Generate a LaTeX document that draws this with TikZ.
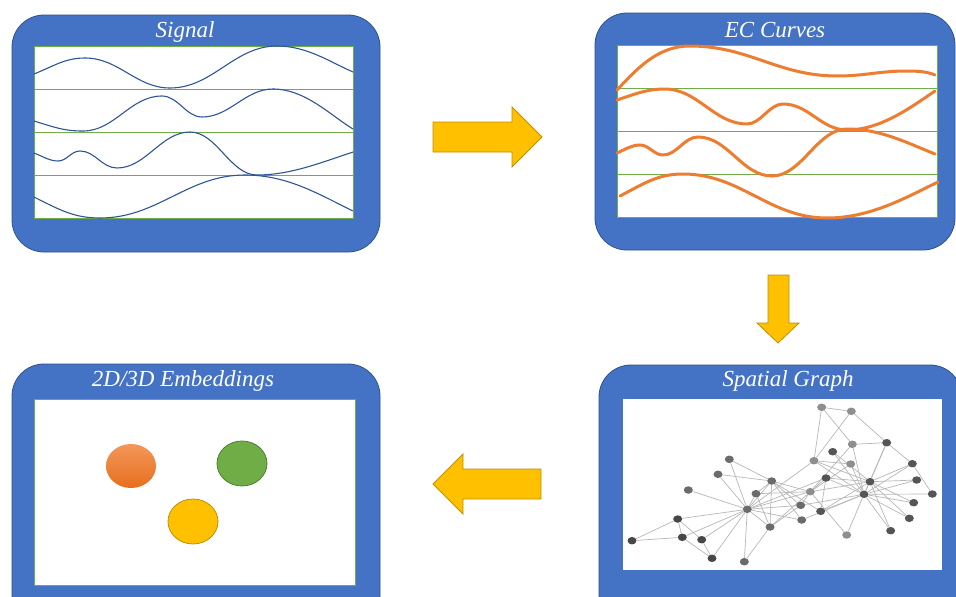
\documentclass[tikz,border=0pt]{standalone}
\usepackage{fontspec}
\setmainfont{Liberation Serif}
\usetikzlibrary{shapes.geometric}
\definecolor{boxblue}{HTML}{4472C4}
\definecolor{boxedge}{HTML}{2F528F}
\definecolor{gr}{HTML}{70AD47}
\definecolor{grdark}{HTML}{507E32}
\definecolor{sigblue}{HTML}{2F5597}
\definecolor{ecorange}{HTML}{ED7D31}
\definecolor{ortop}{HTML}{F3975A}
\definecolor{orbot}{HTML}{E66F1E}
\definecolor{yel}{HTML}{FFC000}
\definecolor{yeledge}{HTML}{BF9000}
\definecolor{gdark}{HTML}{474747}
\definecolor{gdk}{HTML}{555555}
\definecolor{gmid}{HTML}{6B6B6B}
\definecolor{glight}{HTML}{8E8E8E}
\definecolor{gedge}{HTML}{B8B8B8}
\tikzset{
  panel/.style={fill=boxblue,draw=boxedge,line width=0.8pt,rounded corners=32pt},
  inner/.style={fill=white,draw=gr,line width=1pt},
  strip/.style={draw=gr,line width=0.8pt},
  sig/.style={draw=sigblue,line width=1.1pt},
  ec/.style={draw=ecorange,line width=3pt,line cap=round},
  title/.style={text=white,anchor=base,inner sep=0pt,font=\fontsize{23}{26}\selectfont\itshape},
  bigarrow/.style={fill=yel,draw=yeledge,line width=0.8pt,line join=miter},
  gn/.style={ellipse,minimum width=9pt,minimum height=7.5pt,inner sep=0pt,draw=none,fill=none},
  ge/.style={draw=gedge,line width=0.7pt}
}
\begin{document}
\begin{tikzpicture}[x=1pt,y=-1pt]
\path[use as bounding box] (0,0) rectangle (956,597);
\clip (0,0) rectangle (956,597);
\fill[white] (0,0) rectangle (956,597);

% ---------- Signal panel ----------
\draw[panel] (12,15) rectangle (380,252);
\draw[inner] (34,46) rectangle (353,218);
\draw[strip] (34,89) -- (353,89);
\draw[strip] (34,132) -- (353,132);
\draw[strip] (34,175) -- (353,175);
\node[title] (tsig) at (185,37) {Signal};
\draw[sig] (34,74) .. controls (54,66) and (65,58) .. (85,58)
  .. controls (119,58) and (136,88) .. (170,88)
  .. controls (213,88) and (234,46) .. (277,46)
  .. controls (307,46) and (330,62) .. (353,72);
\draw[sig] (34,121) .. controls (54,127) and (63,131) .. (83,131)
  .. controls (115,131) and (130,96) .. (162,96)
  .. controls (178,96) and (186,117) .. (202,117)
  .. controls (230,117) and (245,89) .. (273,89)
  .. controls (305,89) and (330,115) .. (353,129);
\draw[sig] (34,153) .. controls (44,157) and (50,161) .. (58,161)
  .. controls (67,161) and (71,151) .. (80,151)
  .. controls (95,151) and (102,168) .. (117,168)
  .. controls (146,168) and (161,132) .. (190,132)
  .. controls (217,132) and (230,175) .. (257,175)
  .. controls (290,175) and (320,163) .. (353,152);
\draw[sig] (34,197) .. controls (60,210) and (74,218) .. (100,218)
  .. controls (158,218) and (187,175) .. (245,175)
  .. controls (288,175) and (320,195) .. (353,211);

% ---------- EC Curves panel ----------
\draw[panel] (595,13) rectangle (955,250);
\draw[inner] (617,45) rectangle (937,217);
\draw[strip] (617,88) -- (937,88);
\draw[strip] (617,131) -- (937,131);
\draw[strip] (617,174) -- (937,174);
\node[title] (tec) at (775,37) {EC Curves};
\draw[ec] (617,90) .. controls (640,65) and (660,46) .. (690,46)
  .. controls (749,46) and (778,76) .. (837,76)
  .. controls (865,76) and (879,71) .. (907,71)
  .. controls (920,71) and (928,72) .. (935,75);
\draw[ec] (617,100) .. controls (635,94) and (647,89) .. (665,89)
  .. controls (698,89) and (714,124) .. (747,124)
  .. controls (761,124) and (769,104) .. (783,104)
  .. controls (809,104) and (821,130) .. (847,130)
  .. controls (880,130) and (910,108) .. (935,91);
\draw[ec] (617,153) .. controls (626,149) and (632,145) .. (640,145)
  .. controls (649,145) and (654,155) .. (663,155)
  .. controls (677,155) and (684,137) .. (698,137)
  .. controls (728,137) and (742,176) .. (772,176)
  .. controls (802,176) and (817,129) .. (847,129)
  .. controls (880,129) and (905,142) .. (935,154);
\draw[ec] (620,196) .. controls (645,183) and (658,174) .. (683,174)
  .. controls (741,174) and (769,218) .. (827,218)
  .. controls (870,218) and (905,198) .. (938,182);

% ---------- Spatial Graph panel ----------
\draw[panel] (599,365) rectangle (962,630);
\fill[white] (623,399) rectangle (942,570);
\node[title] (tsg) at (788,386) {Spatial Graph};

% node positions (named)
\node[gn] (n1) at (747.3,509.3) {};
\node[gn] (n2) at (771.7,481) {};
\node[gn] (n3) at (810.3,491.7) {};
\node[gn] (n4) at (770,527) {};
\node[gn] (n5) at (712,558.3) {};
\node[gn] (n6) at (677.7,519) {};
\node[gn] (n7) at (682.3,537.3) {};
\node[gn] (n8) at (756,493.7) {};
\node[gn] (n9) at (826,478) {};
\node[gn] (n10) at (846.7,535) {};
\node[gn] (n11) at (701.7,539.7) {};
\node[gn] (n12) at (688.3,490) {};
\node[gn] (n13) at (744.3,561.7) {};
\node[gn] (n14) at (800.7,505.3) {};
\node[gn] (n15) at (832.7,451.7) {};
\node[gn] (n16) at (916.7,480) {};
\node[gn] (n17) at (632,540.7) {};
\node[gn] (n18) at (729.3,459.3) {};
\node[gn] (n19) at (913.7,502.7) {};
\node[gn] (n20) at (801.7,520) {};
\node[gn] (n21) at (909.3,518.3) {};
\node[gn] (n22) at (718,474.3) {};
\node[gn] (n23) at (890.7,530.7) {};
\node[gn] (n24) at (886.7,442.7) {};
\node[gn] (n25) at (821.7,407.3) {};
\node[gn] (n26) at (851.3,411.3) {};
\node[gn] (n27) at (932.3,494) {};
\node[gn] (n28) at (852.3,444.3) {};
\node[gn] (n29) at (850.7,464) {};
\node[gn] (n30) at (912.3,463.7) {};
\node[gn] (n31) at (820.7,511.3) {};
\node[gn] (n32) at (814,460.7) {};
\node[gn] (n33) at (870,481.7) {};
\node[gn] (n34) at (864,494.3) {};

% edges
\foreach \a/\b in {1/2,1/3,1/4,1/5,1/6,1/7,1/8,1/9,1/11,1/12,1/13,1/14,1/18,1/20,1/22,1/32,
  2/3,2/4,2/8,2/14,2/18,2/20,2/22,2/31,
  3/4,3/8,3/9,3/10,3/14,3/28,3/29,3/33,
  4/8,4/13,4/14,5/7,5/11,6/7,6/11,6/17,7/17,
  9/31,9/33,9/34,10/34,14/34,15/33,15/34,16/33,16/34,19/33,19/34,20/34,21/33,21/34,23/33,23/34,
  24/26,24/28,24/30,24/33,24/34,25/26,25/28,25/32,26/32,27/30,27/34,28/34,29/32,29/34,
  30/33,30/34,31/33,31/34,32/33,32/34,33/34}
  \draw[ge] (n\a) -- (n\b);

% node discs on top of edges
\foreach \n/\c in {1/gmid,2/gmid,3/glight,4/gmid,5/gdark,6/gdark,7/gdark,8/gmid,9/gdk,10/glight,11/gdark,12/gmid,13/gmid,14/gmid,15/gdk,16/gdk,17/gdark,
  18/gmid,19/gdk,20/gmid,21/gdk,22/gmid,23/gdk,24/gdk,25/glight,26/glight,27/gdk,28/glight,29/glight,30/gdk,31/gdk,32/glight,33/gdk,34/gdk}
  \fill[\c] (n\n.center) ellipse (4.5pt and 3.75pt);

% ---------- 2D/3D Embeddings panel ----------
\draw[panel] (12,364) rectangle (380,630);
\draw[inner] (34,399) rectangle (355,585);
\node[title] (temb) at (183,386) {2D/3D Embeddings};
\node[ellipse,minimum width=50pt,minimum height=44pt,top color=ortop,bottom color=orbot] (eo) at (131,466) {};
\node[ellipse,minimum width=50pt,minimum height=45pt,fill=gr,draw=grdark,line width=0.8pt] (eg) at (242,463.5) {};
\node[ellipse,minimum width=50pt,minimum height=45pt,fill=yel,draw=yeledge,line width=0.8pt] (ey) at (193,521.5) {};

% ---------- arrows ----------
\draw[bigarrow] (433,122) -- (512,122) -- (512,107) -- (542,137) -- (512,167) -- (512,152) -- (433,152) -- cycle;
\draw[bigarrow] (768,275) -- (789,275) -- (789,323) -- (799,323) -- (778,343) -- (757,323) -- (768,323) -- cycle;
\draw[bigarrow] (541,469) -- (463,469) -- (463,454) -- (433,484) -- (463,514) -- (463,499) -- (541,499) -- cycle;
\end{tikzpicture}
\end{document}
